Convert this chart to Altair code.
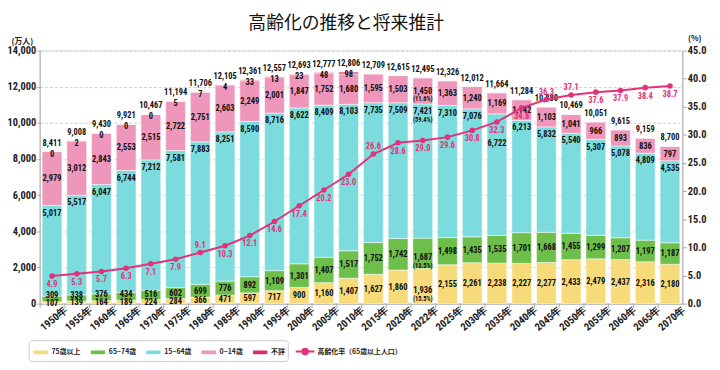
import altair as alt
import pandas as pd

years = [1950, 1955, 1960, 1965, 1970, 1975, 1980, 1985, 1990, 1995, 2000, 2005, 2010,
         2015, 2020, 2022, 2025, 2030, 2035, 2040, 2045, 2050, 2055, 2060, 2065, 2070]
age75_over = [107, 139, 164, 189, 224, 284, 366, 471, 597, 717, 900, 1160, 1407,
              1627, 1860, 1936, 2155, 2261, 2238, 2227, 2277, 2433, 2479, 2437, 2316, 2180]
age65_74 = [309, 338, 376, 434, 516, 602, 699, 776, 892, 1109, 1301, 1407, 1517,
            1752, 1742, 1687, 1498, 1435, 1535, 1701, 1668, 1455, 1299, 1207, 1197, 1187]
age15_64 = [5017, 5517, 6047, 6744, 7212, 7581, 7883, 8251, 8590, 8716, 8622, 8409, 8103,
            7735, 7509, 7421, 7310, 7076, 6722, 6213, 5832, 5540, 5307, 5078, 4809, 4535]
age0_14 = [2979, 3012, 2843, 2553, 2515, 2722, 2751, 2603, 2249, 2001, 1847, 1752, 1680,
           1595, 1503, 1450, 1363, 1240, 1169, 1142, 1103, 1041, 966, 893, 836, 797]
unknown = [0, 2, 0, 0, 0, 5, 7, 4, 33, 13, 23, 48, 98,
           None, None, None, None, None, None, None, None, None, None, None, None, None]
totals = [8411, 9008, 9430, 9921, 10467, 11194, 11706, 12105, 12361, 12557, 12693, 12777, 12806,
          12709, 12615, 12495, 12326, 12012, 11664, 11284, 10880, 10469, 10051, 9615, 9159, 8700]
aging_rate = [4.9, 5.3, 5.7, 6.3, 7.1, 7.9, 9.1, 10.3, 12.1, 14.6, 17.4, 20.2, 23.0,
              26.6, 28.6, 29.0, 29.6, 30.8, 32.3, 34.8, 36.3, 37.1, 37.6, 37.9, 38.4, 38.7]
share_year = 2022
share_2022 = {"75歳以上": "(15.5%)", "65~74歳": "(13.5%)", "15~64歳": "(59.4%)", "0~14歳": "(11.6%)"}

categories = ["75歳以上", "65~74歳", "15~64歳", "0~14歳", "不詳"]
line_name = "高齢化率（65歳以上人口）"
colors = ["#F7DB7B", "#6EBE4B", "#7CDCDD", "#EF97BA", "#E0286F"]
LINE_COLOR = "#E2327B"
rate_above = {1980, 2015, 2045, 2050}

NUM_FONT = "Roboto Condensed, Liberation Sans Narrow, Roboto, sans-serif"
JP_FONT = "Noto Sans CJK JP"
POP_MAX, RATE_MAX = 14000, 45

xlabels = [f"{y}年" for y in years]

bars, seg_labels, pct_labels, tops, unk_labels = [], [], [], [], []
for i, y in enumerate(years):
    lab = xlabels[i]
    vals = [age75_over[i], age65_74[i], age15_64[i], age0_14[i], unknown[i] or 0]
    start = 0
    for cat, v in zip(categories, vals):
        bars.append({"x": lab, "cat": cat, "y0": start, "y1": start + v})
        start += v
    a, b, c, d = vals[:4]
    p75 = a / 2
    p6574 = max(a + b / 2, p75 + 430)
    p1564 = a + b + c - 400
    rate_pos = aging_rate[i] * POP_MAX / RATE_MAX
    if abs(p1564 - rate_pos) < 600:
        p1564 = rate_pos - 1150
    p014 = a + b + c + d / 2
    if y == share_year:
        p75 -= 220
        p6574 -= 220
    for cat, v, p in zip(categories[:4], vals[:4], [p75, p6574, p1564, p014]):
        seg_labels.append({"x": lab, "pos": p, "text": f"{v:,}"})
        if y == share_year:
            pct_labels.append({"x": lab, "pos": p, "text": share_2022[cat]})
    tops.append({"x": lab, "pos": totals[i], "text": f"{totals[i]:,}"})
    if unknown[i] is not None:
        unk_labels.append({"x": lab, "pos": totals[i], "text": f"{unknown[i]:,}"})

bars_df = pd.DataFrame(bars)
rate_df = pd.DataFrame({"x": xlabels, "rate": aging_rate, "series": line_name,
                        "text": [f"{r:.1f}" for r in aging_rate],
                        "above": [y in rate_above for y in years]})

rect_path = "M-1,-0.33H1V0.33H-1Z"
line_path = ("M-1,0H1M0.3,0A0.3,0.3,0,1,1,-0.3,0A0.3,0.3,0,1,1,0.3,0Z"
             "M0.15,0A0.15,0.15,0,1,1,-0.15,0A0.15,0.15,0,1,1,0.15,0Z")

legend_bars = alt.Legend(
    orient="none", legendX=-11, legendY=293, direction="horizontal", title=None,
    strokeColor="#cccccc", fillColor="white", cornerRadius=3, padding=3,
    labelFont=JP_FONT, labelFontSize=7, labelFontWeight="bold", labelColor="#222",
    labelOffset=2, columnPadding=6, symbolSize=256, symbolType=rect_path,
    labelExpr="datum.label == '不詳' ? '不詳" + "\u3000" * 18 + "' : datum.label",
    zindex=1,
)
legend_line = alt.Legend(
    orient="none", legendX=258, legendY=294, direction="horizontal", title=None,
    padding=0, labelFont=JP_FONT, labelFontSize=7, labelFontWeight="bold", labelColor="#222",
    labelOffset=2, symbolSize=361, symbolStrokeWidth=2, symbolStrokeColor=LINE_COLOR,
    symbolFillColor=LINE_COLOR, symbolOpacity=1, zindex=2,
)

x_enc = alt.X("x:N", sort=xlabels, title=None,
              scale=alt.Scale(paddingInner=0.2, paddingOuter=0.1),
              axis=alt.Axis(labelAngle=320, labelFont=NUM_FONT, labelFontSize=10.5,
                            labelFontWeight="bold", labelColor="#222",
                            tickOffset=-12.5, labelOffset=26, tickSize=4, labelPadding=1,
                            domainColor="#aaaaaa", tickColor="#aaaaaa", grid=False,
                            labelAlign="right", labelBaseline="middle"))

pop_scale = alt.Scale(domain=[0, POP_MAX], nice=False, zero=True)
pop_axis = alt.Axis(values=list(range(0, POP_MAX + 1, 2000)), format=",.0f",
                    labelFont=NUM_FONT, labelFontSize=10.5, labelFontWeight="bold", labelColor="#222",
                    tickSize=3, labelPadding=1, domainColor="#aaaaaa", tickColor="#aaaaaa",
                    gridColor="#cccccc", gridDash=[3, 2], title="(万人)", titleAngle=0,
                    titleX=-18, titleY=-9, titleAlign="center", titleBaseline="middle",
                    titleFont=JP_FONT, titleFontSize=8, titleFontWeight="bold", titleColor="#222")
rate_scale = alt.Scale(domain=[0, RATE_MAX], nice=False, zero=True)
rate_axis = alt.Axis(orient="right", values=list(range(0, RATE_MAX + 1, 5)), format=".1f",
                     labelFont=NUM_FONT, labelFontSize=10.5, labelFontWeight="bold", labelColor="#222",
                     tickSize=4, labelPadding=1, domainColor="#aaaaaa", tickColor="#aaaaaa",
                     grid=False, title="(%)", titleAngle=0, titleX=12, titleY=-12,
                     titleAlign="center", titleBaseline="middle",
                     titleFont=JP_FONT, titleFontSize=8, titleFontWeight="bold", titleColor="#222")

bar_layer = alt.Chart(bars_df).mark_bar(stroke="white", strokeWidth=0.5).encode(
    x=x_enc,
    y=alt.Y("y0:Q", scale=pop_scale, axis=pop_axis),
    y2="y1:Q",
    color=alt.Color("cat:N", scale=alt.Scale(domain=categories, range=colors), legend=legend_bars),
)


def text_layer(rows, **kw):
    base = dict(font=NUM_FONT, fontSize=8.5, fontWeight="bold", color="#111", baseline="middle")
    base.update(kw)
    return alt.Chart(pd.DataFrame(rows)).mark_text(**base).encode(
        x=x_enc, y=alt.Y("pos:Q", scale=pop_scale, axis=pop_axis), text="text:N")


seg_text = text_layer(seg_labels)
pct_text = text_layer(pct_labels, fontSize=6.5, dy=8.5)
top_text = text_layer(tops, dy=-9)
unk_text = text_layer(unk_labels, dy=2)

pop = alt.layer(bar_layer, seg_text, pct_text, top_text, unk_text)

rate_y = alt.Y("rate:Q", scale=rate_scale, axis=rate_axis)
rate_base = alt.Chart(rate_df)
rate_line = rate_base.mark_line(strokeWidth=2, color=LINE_COLOR).encode(x=x_enc, y=rate_y)
rate_pts = rate_base.mark_circle(size=32, opacity=1, color=LINE_COLOR).encode(x=x_enc, y=rate_y)
rate_below = rate_base.transform_filter("!datum.above").mark_text(
    font=NUM_FONT, fontSize=8.5, fontWeight="bold", color=LINE_COLOR, baseline="middle", dy=8
).encode(x=x_enc, y=rate_y, text="text:N")
rate_above_t = rate_base.transform_filter("datum.above").mark_text(
    font=NUM_FONT, fontSize=8.5, fontWeight="bold", color=LINE_COLOR, baseline="middle", dy=-8
).encode(x=x_enc, y=rate_y, text="text:N")
rate_key = rate_base.transform_filter("false").mark_point(
    filled=False, color=LINE_COLOR, strokeWidth=2, opacity=1
).encode(x=x_enc, y=rate_y,
         shape=alt.Shape("series:N", scale=alt.Scale(domain=[line_name], range=[line_path]),
                         legend=legend_line))

rate = alt.layer(rate_line, rate_pts, rate_below, rate_above_t, rate_key)

chart = alt.layer(pop, rate).resolve_scale(y="independent").properties(
    width=650, height=256,
    autosize=alt.AutoSizeParams(type="none"),
    padding={"left": 32, "top": 41, "right": 30, "bottom": 57},
    title=alt.TitleParams("高齢化の推移と将来推計", font=JP_FONT, fontSize=18,
                          fontWeight="normal", anchor="middle", dx=-15, offset=2, color="#111"),
).configure_view(stroke=None).configure(background="white")

chart.save("out.html", embed_options={"renderer": "svg", "actions": False})
